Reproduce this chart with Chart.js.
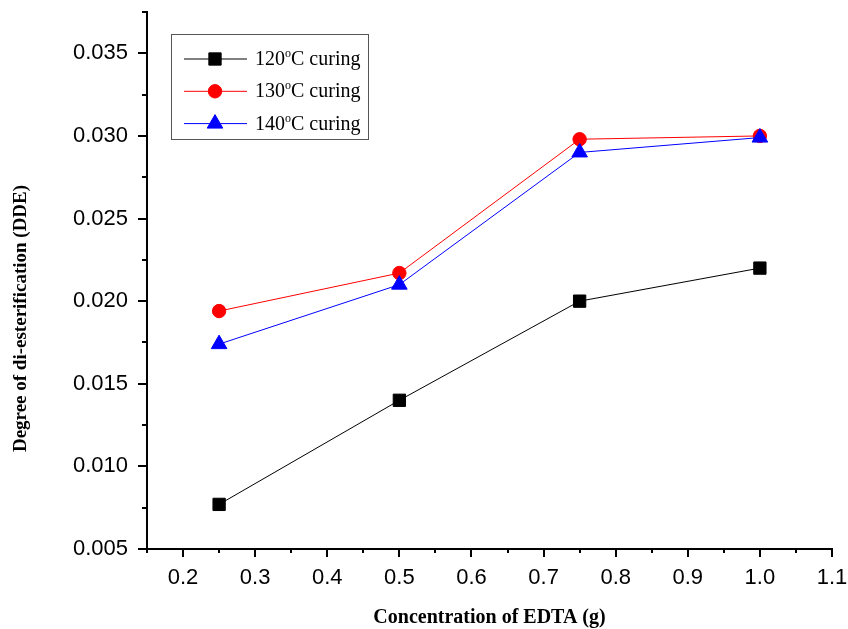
<!DOCTYPE html>
<html>
<head>
<meta charset="utf-8">
<script src="https://cdn.jsdelivr.net/npm/chart.js@4/dist/chart.umd.min.js"></script>
<style>
  html, body { margin: 0; padding: 0; background: #fff; }
  #chart { display: block; }
</style>
</head>
<body>
<canvas id="chart" width="848" height="629"></canvas>
<script>
// values
const concentrations = [0.25, 0.5, 0.75, 1.0];
const dde120 = [0.0077, 0.0140, 0.0200, 0.0220];
const dde130 = [0.0194, 0.0217, 0.0298, 0.0300];
const dde140 = [0.0174, 0.0210, 0.0290, 0.0299];
const seriesLabels = ['120', '130', '140'];

const xTickLabels = ['0.2', '0.3', '0.4', '0.5', '0.6', '0.7', '0.8', '0.9', '1.0', '1.1'];
const yTickLabels = ['0.005', '0.010', '0.015', '0.020', '0.025', '0.030', '0.035'];

const SANS = '"Liberation Sans", Arial, sans-serif';
const SERIF = '"Liberation Serif", "Times New Roman", serif';

const toPoints = (ys) => concentrations.map((x, i) => ({ x, y: ys[i] }));

const onGrid = (v, step) => Math.abs(v / step - Math.round(v / step)) < 1e-6;
const isMajorX = (v) => onGrid(v, 0.1) && xTickLabels.includes(v.toFixed(1));
const isMajorY = (v) => onGrid(v, 0.005) && yTickLabels.includes(v.toFixed(3));

// minor/major tick marks on the outside of each axis
const tickMarks = {
  id: 'tickMarks',
  afterDraw(chart) {
    const { ctx, scales: { x, y } } = chart;
    ctx.save();
    ctx.strokeStyle = '#000';
    ctx.lineWidth = 2;
    ctx.beginPath();
    x.ticks.forEach(t => {
      const px = Math.round(x.getPixelForValue(t.value));
      const len = isMajorX(t.value) ? 8 : 4;
      ctx.moveTo(px, y.bottom);
      ctx.lineTo(px, y.bottom + len);
    });
    y.ticks.forEach(t => {
      const py = Math.round(y.getPixelForValue(t.value));
      const len = isMajorY(t.value) ? 9 : 5;
      ctx.moveTo(x.left, py);
      ctx.lineTo(x.left - len, py);
    });
    ctx.stroke();
    ctx.restore();
  }
};

// boxed legend with superscript degree sign
const boxLegend = {
  id: 'boxLegend',
  afterDraw(chart) {
    const { ctx, chartArea } = chart;
    const left = chartArea.left + 24;
    const top = chartArea.top + 22;
    ctx.save();
    ctx.strokeStyle = '#555';
    ctx.lineWidth = 1;
    ctx.strokeRect(left + 0.5, top + 0.5, 197, 105);

    chart.data.datasets.forEach((ds, i) => {
      const cy = top + 25 + i * 32.3;
      ctx.strokeStyle = ds.borderColor;
      ctx.lineWidth = 1;
      ctx.beginPath();
      ctx.moveTo(left + 13, cy);
      ctx.lineTo(left + 76, cy);
      ctx.stroke();
      ctx.fillStyle = ds.pointBackgroundColor;
      ctx.strokeStyle = ds.pointBackgroundColor;
      Chart.helpers.drawPoint(ctx, { pointStyle: ds.pointStyle, radius: ds.pointRadius, borderWidth: 1, rotation: 0 }, left + 44, cy);

      ctx.fillStyle = '#000';
      ctx.textBaseline = 'alphabetic';
      ctx.textAlign = 'left';
      let tx = left + 84;
      const base = cy + 6;
      ctx.font = '20px ' + SERIF;
      ctx.fillText(seriesLabels[i], tx, base);
      tx += ctx.measureText(seriesLabels[i]).width;
      ctx.font = '12px ' + SERIF;
      ctx.fillText('o', tx, base - 8);
      tx += ctx.measureText('o').width;
      ctx.font = '20px ' + SERIF;
      ctx.fillText('C curing', tx, base);
    });
    ctx.restore();
  }
};

new Chart(document.getElementById('chart'), {
  type: 'line',
  data: {
    datasets: [
      {
        label: '120°C curing',
        data: toPoints(dde120),
        borderColor: '#000',
        borderWidth: 1,
        pointStyle: 'rect',
        pointRadius: 8.7,
        pointBackgroundColor: '#000',
        pointBorderColor: '#000',
        pointBorderWidth: 1,
        order: 2
      },
      {
        label: '130°C curing',
        data: toPoints(dde130),
        borderColor: '#ff0000',
        borderWidth: 1,
        pointStyle: 'circle',
        pointRadius: 6.7,
        pointBackgroundColor: '#ff0000',
        pointBorderColor: '#ff0000',
        pointBorderWidth: 1,
        order: 1
      },
      {
        label: '140°C curing',
        data: toPoints(dde140),
        borderColor: '#0000ff',
        borderWidth: 1,
        pointStyle: 'triangle',
        pointRadius: 9,
        pointBackgroundColor: '#0000ff',
        pointBorderColor: '#0000ff',
        pointBorderWidth: 1,
        order: 0
      }
    ]
  },
  options: {
    responsive: false,
    animation: false,
    layout: { padding: { top: 12, right: 16, left: 0, bottom: 0 } },
    plugins: {
      legend: { display: false },
      tooltip: { enabled: false }
    },
    scales: {
      x: {
        type: 'linear',
        min: 0.15,
        max: 1.1,
        afterFit: (s) => { s.height = 80; s.paddingLeft = 0; s.paddingRight = 0; },
        border: { display: true, color: '#000', width: 2 },
        grid: { drawOnChartArea: false, drawTicks: false },
        ticks: {
          stepSize: 0.05,
          autoSkip: false,
          maxRotation: 0,
          padding: 16,
          color: '#000',
          font: { family: SANS, size: 22 },
          callback: (v) => isMajorX(v) ? v.toFixed(1) : ''
        },
        title: {
          display: true,
          text: 'Concentration of EDTA (g)',
          color: '#000',
          font: { family: SERIF, size: 20, weight: 'bold' },
          padding: { top: 0, bottom: -1 }
        }
      },
      y: {
        min: 0.005,
        max: 0.0375,
        afterFit: (s) => { s.width = 147; s.paddingTop = 0; s.paddingBottom = 0; },
        border: { display: true, color: '#000', width: 2 },
        grid: { drawOnChartArea: false, drawTicks: false },
        ticks: {
          stepSize: 0.0025,
          autoSkip: false,
          padding: 19,
          color: '#000',
          font: { family: SANS, size: 22 },
          callback: (v) => isMajorY(v) ? v.toFixed(3) : ''
        },
        title: {
          display: true,
          text: 'Degree of di-esterification (DDE)' + '\u00a0'.repeat(16),
          color: '#000',
          font: { family: SERIF, size: 19, weight: 'bold' },
          padding: { top: 10, bottom: 0 }
        }
      }
    }
  },
  plugins: [tickMarks, boxLegend]
});
</script>
</body>
</html>
